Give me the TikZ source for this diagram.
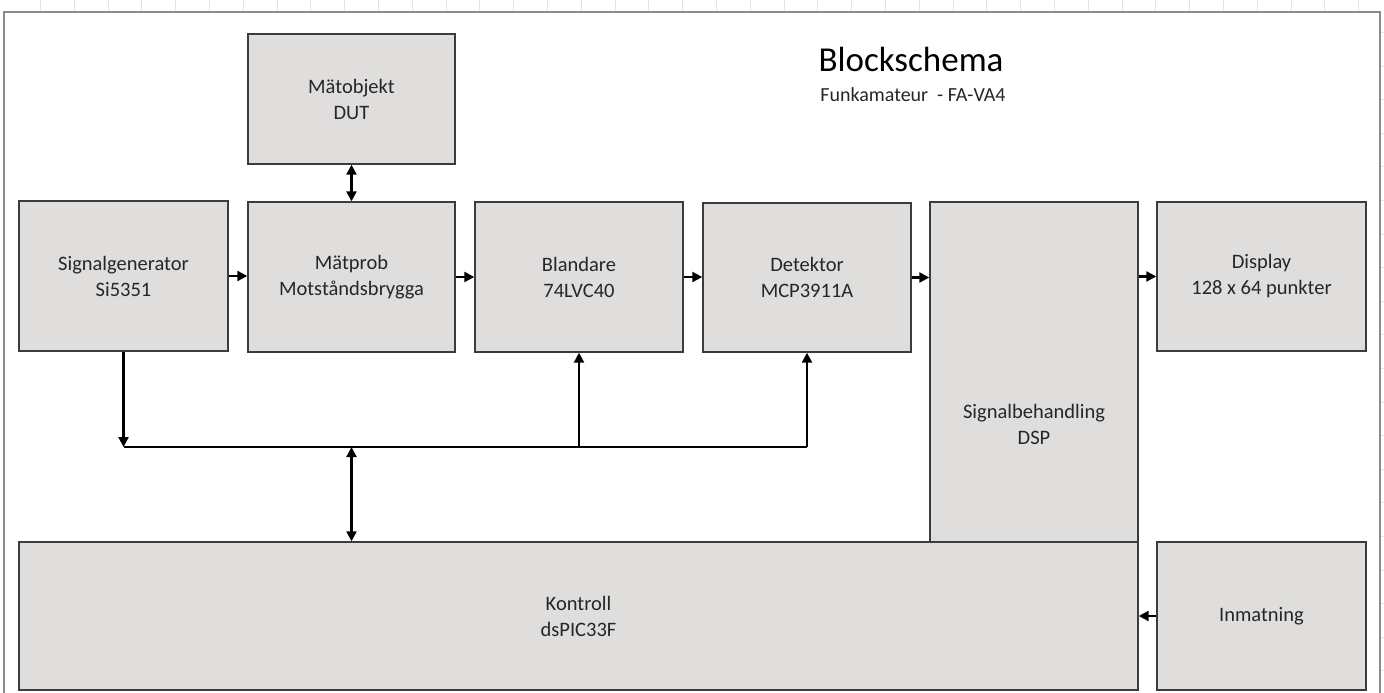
\documentclass[tikz,border=0pt]{standalone}
\usepackage{fontspec}
\setmainfont{Carlito}
\usepackage{tikz}
\usetikzlibrary{arrows.meta}

\definecolor{boxfill}{RGB}{224,222,220}
\definecolor{boxline}{RGB}{60,60,60}
\definecolor{rim}{RGB}{140,140,140}
\definecolor{cellline}{RGB}{208,232,250}
\definecolor{txt}{RGB}{38,38,38}

\tikzset{
  blok/.style={draw=boxline,fill=boxfill,line width=1.4pt,inner sep=0pt,align=center,
    text=txt,font=\fontsize{20.5}{26}\selectfont},
  pil/.style={line width=2.2pt,-{Triangle[length=10pt,width=10pt]}},
  dpil/.style={line width=2.2pt,{Triangle[length=10pt,width=10pt]}-{Triangle[length=10pt,width=10pt]}},
}

\begin{document}
\begin{tikzpicture}[x=1pt,y=-1pt]
\clip (0,0) rectangle (1384,693);
% sheet grid and frame
\foreach \i in {0,...,40}
  \draw[cellline,line width=1pt] ({40.5+33.8*\i},0) -- ++(0,693);
\foreach \j in {-1,...,20}
  \draw[cellline,line width=1pt] (4,{32.5+33.6*\j}) -- ++(1384,0);
\draw[rim,fill=white,line width=1.4pt] (4,12) rectangle (1380,710);

% title
\node[text=black,font=\fontsize{35}{40}\selectfont,anchor=base] (titel) at (911,72) {Blockschema};
\node[text=txt,font=\fontsize{20}{24}\selectfont,anchor=base] (under) at (913,101) {Funkamateur\ \ - FA-VA4};

% blocks
\node[blok,minimum width=207,minimum height=130] (dut)  at (351.5,99)  {Mätobjekt\\DUT};
\node[blok,minimum width=209,minimum height=150] (sig)  at (123.5,276) {Signalgenerator\\Si5351};
\node[blok,minimum width=207,minimum height=150] (prob) at (351.5,277) {Mätprob\\Motståndsbrygga};
\node[blok,minimum width=208,minimum height=150] (mix)  at (579,277)   {Blandare\\74LVC40};
\node[blok,minimum width=208,minimum height=149] (det)  at (807,277.5) {Detektor\\MCP3911A};
\node[blok,minimum width=208,minimum height=340] (dsp)  at (1034,372)  {};
\node[blok,draw=none,fill=none] (dsptext) at (1034,424) {Signalbehandling\\DSP};
\node[blok,minimum width=209,minimum height=149] (disp) at (1261.5,276.5) {Display\\128 x 64 punkter};
\node[blok,minimum width=1119,minimum height=148] (ctl) at (578.5,616) {Kontroll\\dsPIC33F};
\node[blok,minimum width=209,minimum height=148] (inp) at (1261.5,616) {Inmatning};

% bus
\coordinate (bus) at (0,447);
\draw[line width=2.2pt] (sig.south |- bus) -- (det.south |- bus);

% signal path
\draw[pil] (sig.east) -- (sig.east -| prob.west);
\draw[pil] (prob.east) -- (prob.east -| mix.west);
\draw[pil] (mix.east) -- (mix.east -| det.west);
\draw[pil] (det.east) -- (det.east -| dsp.west);
\draw[pil] (disp.west -| dsp.east) -- (disp.west);
\draw[pil] (inp.west) -- (inp.west -| ctl.east);
\draw[dpil] (dut.south) -- (prob.north);

% control lines
\draw[pil] (sig.south) -- (sig.south |- bus);
\draw[pil] (mix.south |- bus) -- (mix.south);
\draw[pil] (det.south |- bus) -- (det.south);
\draw[dpil] (prob.south |- bus) -- (prob.south |- ctl.north);
\end{tikzpicture}
\end{document}
